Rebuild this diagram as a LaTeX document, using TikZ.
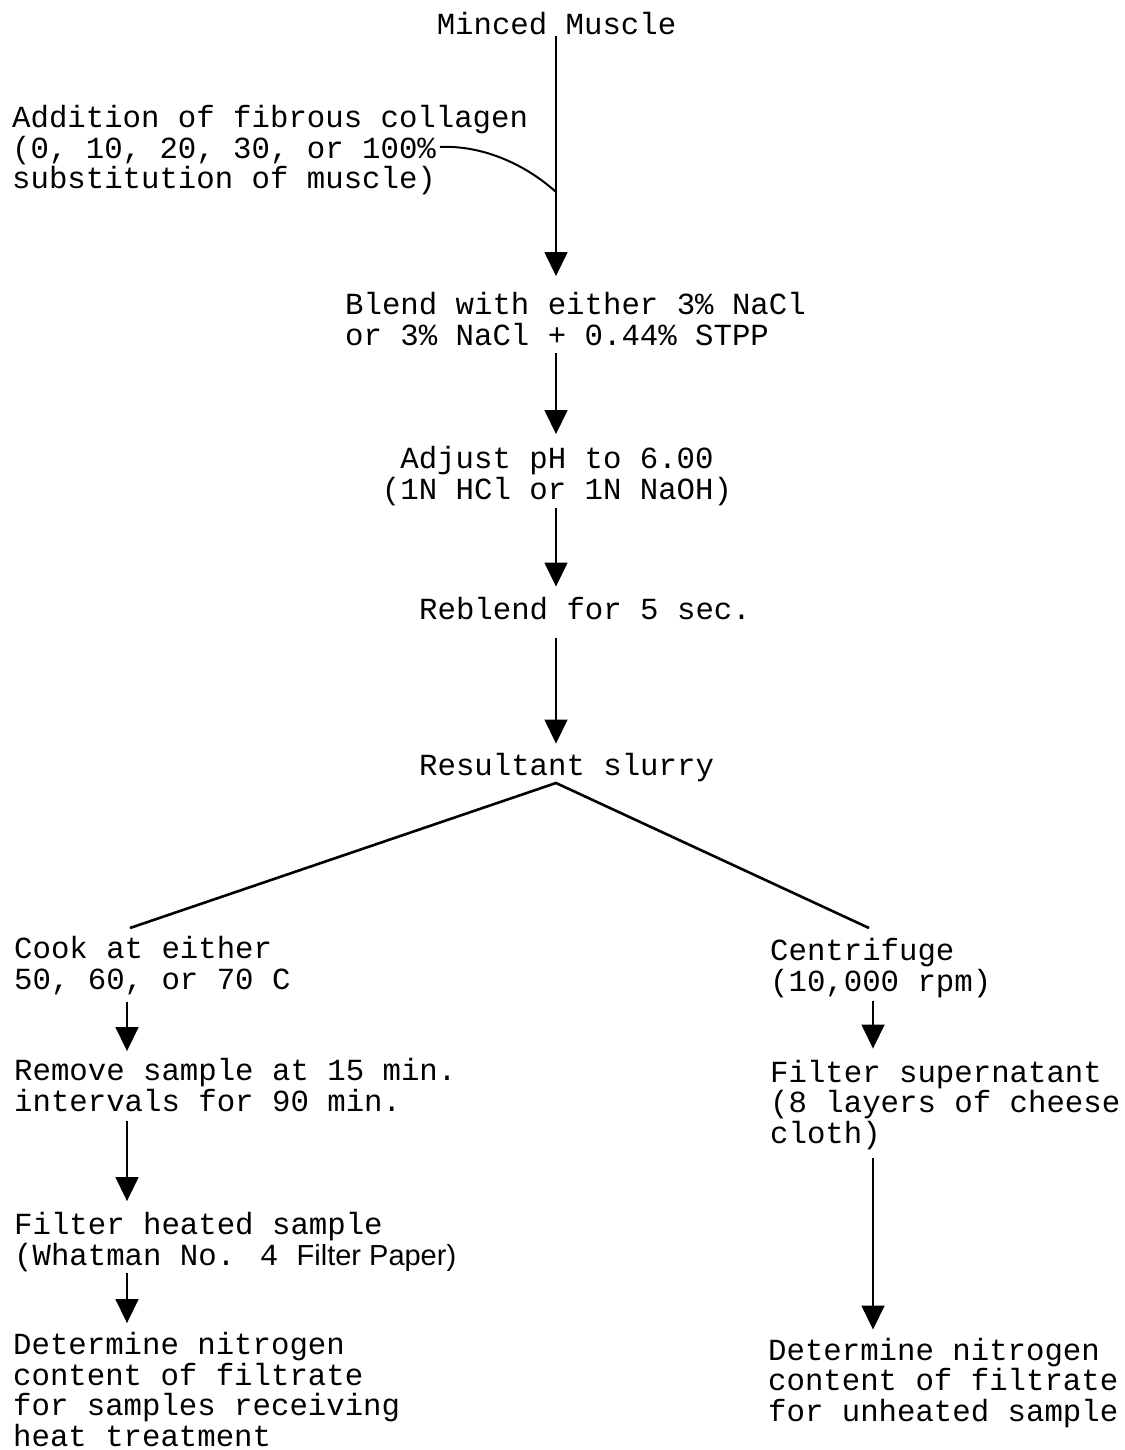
\documentclass[tikz,border=0pt]{standalone}
\usepackage{fontspec}
\newfontfamily\tw{Liberation Mono}
\newfontfamily\swf{Liberation Sans}
\usetikzlibrary{arrows.meta}
\tikzset{
  txt/.style={inner sep=0pt, anchor=base west, align=left, font={\tw\fontsize{30.7pt}{30.5pt}\selectfont}},
  ctxt/.style={inner sep=0pt, anchor=base, align=center, font={\tw\fontsize{30.7pt}{30.5pt}\selectfont}},
  conn/.style={line width=2.6pt},
  arr/.style={line width=1.6pt, -{Triangle[width=23pt,length=24pt]}}
}
\begin{document}
\begin{tikzpicture}[x=1pt,y=-1pt]
\useasboundingbox (0,0) rectangle (1124,1450);
% nodes (anchor = baseline of the last line)
\node[ctxt] (minced) at (556.5,35) {Minced Muscle};
\node[txt] (addition) at (12,189) {Addition of fibrous collagen\\(0, 10, 20, 30, or 100\%\\substitution of muscle)};
\node[txt] (blend) at (345,345) {Blend with either 3\% NaCl\\or 3\% NaCl + 0.44\% STPP};
\node[ctxt] (adjust) at (557,499) {Adjust pH to 6.00\\(1N HCl or 1N NaOH)};
\node[txt] (reblend) at (419,619) {Reblend for 5 sec.};
\node[txt] (slurry) at (419,775) {Resultant slurry};
\node[txt] (cook) at (14,989) {Cook at either\\50, 60, or 70 C};
\node[txt] (remove) at (14,1111) {Remove sample at 15 min.\\intervals for 90 min.};
\node[txt] (filterh) at (14,1265) {Filter heated sample\\(Whatman No. 4 {\swf\fontsize{29pt}{30.5pt}\selectfont Filter Paper)}};
\node[txt] (detl) at (13,1446) {Determine nitrogen\\content of filtrate\\for samples receiving\\heat treatment};
\node[txt] (centri) at (770,991) {Centrifuge\\(10,000 rpm)};
\node[txt] (filters) at (770,1143) {Filter supernatant\\(8 layers of cheese\\cloth)};
\node[txt] (detr) at (768,1421) {Determine nitrogen\\content of filtrate\\for unheated sample};
% helper coordinates
\coordinate (tx) at (556,0);
\coordinate (lx) at (127,0);
\coordinate (rx) at (873,0);
\coordinate (join) at (556,192);
\coordinate (cstart) at (440,147);
\coordinate (bl) at (130,928);
\coordinate (br) at (869,928);
\coordinate (apex) at (556,783);
% connectors
\draw[arr, shorten >=16pt] (minced.south -| tx) -- (blend.north -| tx);
\draw[line width=2pt] (cstart) .. controls (482,145) and (525,164) .. (join);
\draw[arr, shorten <=7pt, shorten >=12pt] (blend.south -| tx) -- (adjust.north -| tx);
\draw[arr, shorten <=2pt, shorten >=10pt] (adjust.south -| tx) -- (reblend.north -| tx);
\draw[arr, shorten <=18pt, shorten >=9pt] (reblend.south -| tx) -- (slurry.north -| tx);
\draw[conn, line join=miter] (bl) -- (apex) -- (br);
\draw[arr, shorten <=7pt, shorten >=7pt] (cook.south -| lx) -- (remove.north -| lx);
\draw[arr, shorten <=9pt, shorten >=11pt] (remove.south -| lx) -- (filterh.north -| lx);
\draw[arr, shorten <=1pt, shorten >=9pt] (filterh.south -| lx) -- (detl.north -| lx);
\draw[arr, shorten <=3pt, shorten >=11pt] (centri.south -| rx) -- (filters.north -| rx);
\draw[arr, shorten <=8pt, shorten >=8pt] (filters.south -| rx) -- (detr.north -| rx);
\end{tikzpicture}
\end{document}
